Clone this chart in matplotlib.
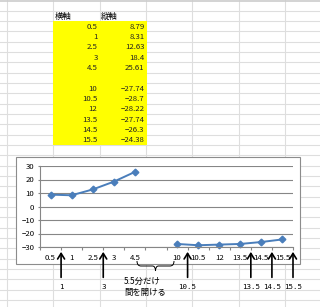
import numpy as np
from matplotlib import pyplot as plt
from matplotlib.patches import Rectangle, PathPatch
from matplotlib.path import Path

# table / chart data (blank row = gap in the line)
x_vals = [0.5, 1, 2.5, 3, 4.5, None, 10, 10.5, 12, 13.5, 14.5, 15.5]
y_vals = [8.79, 8.31, 12.63, 18.4, 25.61, None, -27.74, -28.7, -28.22, -27.74, -26.3, -24.38]
headers = ["横軸", "縦軸"]
y_ticks = [-30, -20, -10, 0, 10, 20, 30]

# arrows under the chart: category boundary index and the label written below
arrow_after = [0, 2, 6, 9, 10, 11]
arrow_labels = ["1", "3", "10.5", "13.5", "14.5", "15.5"]
gap_note = ["5.5分だけ", "間を開ける"]

plt.rcParams['font.family'] = ['Noto Sans CJK JP', 'DejaVu Sans']

fig = plt.figure(figsize=(3.2, 3.07), dpi=100)
bg = fig.add_axes([0, 0, 1, 1])
bg.set_xlim(0, 320)
bg.set_ylim(307, 0)
bg.axis('off')

# spreadsheet cell grid
col_w = 46.33
row_h = 10.33
for k in range(8):
    bg.axvline(7 + col_w * k, color='#dedede', lw=0.8, zorder=0)
for k in range(30):
    bg.axhline(10.7 + row_h * k, color='#dedede', lw=0.8, zorder=0)
bg.axhline(0.5, color='#cccccc', lw=1.2, zorder=0)

# yellow data block
n = len(x_vals)
bg.add_patch(Rectangle((53.3, 10.7 + row_h), 93.3, row_h * n, facecolor='#ffff00',
                       edgecolor='none', zorder=1))

def fmt(v):
    return f"{v:g}".replace("-", "−")

bg.text(55, 10.7 + row_h * 0.55, headers[0], fontsize=6, ha='left', va='center', zorder=2)
bg.text(101, 10.7 + row_h * 0.55, headers[1], fontsize=6, ha='left', va='center', zorder=2)
for i, (xv, yv) in enumerate(zip(x_vals, y_vals)):
    if xv is None:
        continue
    cy = 10.7 + row_h * (i + 1.55)
    bg.text(97.5, cy, fmt(xv), fontsize=5.6, ha='right', va='center', color='#222222', zorder=2)
    bg.text(144.5, cy, fmt(yv), fontsize=5.6, ha='right', va='center', color='#222222', zorder=2)

# chart frame
bg.add_patch(Rectangle((15.5, 157.3), 284.5, 106.5, facecolor='white',
                       edgecolor='#8c8c8c', lw=0.8, zorder=3))

# brace marking the gap
bx0, bx1, by0, by1 = 137, 174, 261, 271
bm = (bx0 + bx1) / 2
verts = [(bx0, by0), (bx0, by0 + 5), (bx0 + 4, by0 + 5), (bm - 3, by0 + 5),
         (bm, by0 + 5), (bm, by1), (bm, by1), (bm, by0 + 5), (bm + 3, by0 + 5),
         (bx1 - 4, by0 + 5), (bx1, by0 + 5), (bx1, by0)]
codes = [Path.MOVETO, Path.CURVE3, Path.CURVE3, Path.LINETO,
         Path.CURVE3, Path.CURVE3, Path.MOVETO, Path.CURVE3, Path.CURVE3,
         Path.LINETO, Path.CURVE3, Path.CURVE3]
bg.add_patch(PathPatch(Path(verts, codes), facecolor='none', edgecolor='black',
                       lw=0.7, zorder=5))
bg.text(124, 281.5, gap_note[0], fontsize=6, ha='left', va='center', zorder=5)
bg.text(124, 292.5, gap_note[1], fontsize=6, ha='left', va='center', zorder=5)

# the line chart (category axis)
ax = fig.add_axes([40 / 320, 1 - 247 / 307, 253 / 320, 81 / 307])
ax.set_zorder(4)
idx = np.arange(n)
yy = np.array([np.nan if v is None else v for v in y_vals])
ax.plot(idx, yy, color='#4a7ebb', lw=1.4, marker='D', markersize=3.4,
        markerfacecolor='#4a7ebb', markeredgecolor='#4a7ebb', clip_on=False)
ax.set_xlim(-0.5, n - 0.5)
ax.set_ylim(-30, 30)
ax.set_yticks(y_ticks)
ax.set_yticklabels([fmt(t) for t in y_ticks])
ax.set_xticks(idx)
ax.set_xticklabels(["" if v is None else fmt(v) for v in x_vals])
ax.set_xticks(np.arange(n + 1) - 0.5, minor=True)
ax.tick_params(axis='x', which='major', length=0, pad=5, labelsize=5.6)
ax.tick_params(axis='x', which='minor', length=2.2, color='#868686', width=0.8)
ax.tick_params(axis='y', length=1.5, color='#868686', width=0.8, pad=2.5, labelsize=5.6)
ax.grid(axis='y', color='#868686', lw=0.8)
ax.set_axisbelow(True)
for s in ['top', 'right']:
    ax.spines[s].set_visible(False)
for s in ['left', 'bottom']:
    ax.spines[s].set_color('#868686')
    ax.spines[s].set_linewidth(0.8)

tr = ax.get_xaxis_transform()
for b, lab in zip(arrow_after, arrow_labels):
    ax.annotate("", xy=(b + 0.5, -0.06), xytext=(b + 0.5, -0.375), xycoords=tr,
                textcoords=tr, annotation_clip=False,
                arrowprops=dict(arrowstyle='->,head_length=0.4,head_width=0.25',
                                color='black', lw=1.2, shrinkA=0, shrinkB=0))
    ax.text(b + 0.5, -0.49, lab, transform=tr, ha='center', va='center',
            fontsize=5.4, family='DejaVu Sans Mono')

fig.savefig('out.png', dpi=100)
